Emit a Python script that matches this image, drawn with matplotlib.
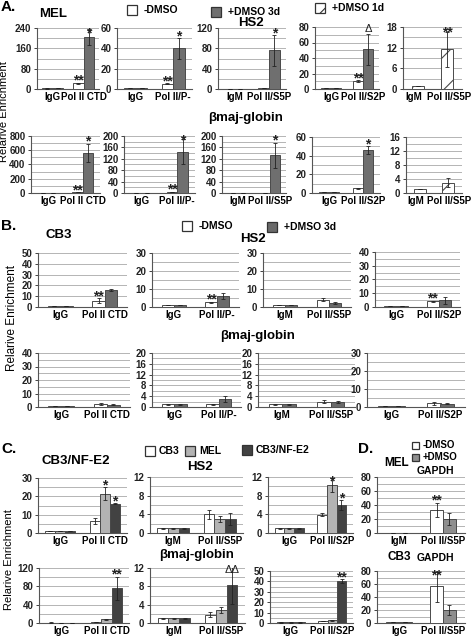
import numpy as np
import matplotlib
matplotlib.use("Agg")
import matplotlib.pyplot as plt
from matplotlib.patches import Rectangle

plt.rcParams['font.family'] = ['Liberation Sans', 'DejaVu Sans']
plt.rcParams['font.weight'] = 'bold'
plt.rcParams['hatch.linewidth'] = 0.8

# ---------------- DATA ----------------
# Panel A (MEL) - HS2
A1_cats = ["IgG", "Pol II CTD"]
A1_vals = [[2, 22], [3, 205]]
A1_errs = [[0.3, 3], [0.3, 30]]
A1_ticks = [0, 80, 160, 240]
A1_marks = [["", "**"], ["", "*"]]

A2_cats = ["IgG", "Pol II/P-"]
A2_vals = [[0.6, 5], [0.6, 40]]
A2_errs = [[0.1, 0.5], [0.1, 10]]
A2_ticks = [0, 20, 40, 60]
A2_marks = [["", "**"], ["", "*"]]

A3_cats = ["IgM", "Pol II/S5P"]
A3_vals = [[0.5, 2], [0.5, 76]]
A3_errs = [[0.1, 0.3], [0.1, 30]]
A3_ticks = [0, 40, 80, 120]
A3_marks = [["", ""], ["", "*"]]

A4_cats = ["IgG", "Pol II/S2P"]
A4_vals = [[1, 10], [1, 51]]
A4_errs = [[0.1, 1], [0.1, 20]]
A4_ticks = [0, 20, 40, 60, 80]
A4_marks = [["", "**"], ["", "Δ"]]

A5_cats = ["IgM", "Pol II/S5P"]
A5_vals = [[1, 11.5]]
A5_errs = [[0, 5]]
A5_ticks = [0, 6, 12, 18]
A5_marks = [["", "**"]]

# Panel A (MEL) - beta-maj-globin
A6_cats = ["IgG", "Pol II CTD"]
A6_vals = [[3, 10], [3, 560]]
A6_errs = [[0.5, 1], [0.5, 130]]
A6_ticks = [0, 200, 400, 600, 800]
A6_marks = [["", "**"], ["", "*"]]

A7_cats = ["IgG", "Pol II/P-"]
A7_vals = [[1, 3], [1, 145]]
A7_errs = [[0.1, 0.3], [0.1, 45]]
A7_ticks = [0, 40, 80, 120, 160, 200]
A7_marks = [["", "**"], ["", "*"]]

A8_cats = ["IgM", "Pol II/S5P"]
A8_vals = [[1, 1], [1, 132]]
A8_errs = [[0.1, 0.1], [0.1, 45]]
A8_ticks = [0, 40, 80, 120, 160, 200]
A8_marks = [["", ""], ["", "*"]]

A9_cats = ["IgG", "Pol II/S2P"]
A9_vals = [[1, 5], [1, 46]]
A9_errs = [[0.1, 0.3], [0.1, 4]]
A9_ticks = [0, 20, 40, 60]
A9_marks = [["", ""], ["", "*"]]

A10_cats = ["IgM", "Pol II/S5P"]
A10_vals = [[1.2, 3]]
A10_errs = [[0, 1.3]]
A10_ticks = [0, 4, 8, 12, 16]
A10_marks = [["", ""]]

# Panel B (CB3) - HS2
B1_cats = ["IgG", "Pol II CTD"]
B1_vals = [[1, 6], [1, 15.5]]
B1_errs = [[0.1, 2], [0.1, 0.8]]
B1_ticks = [0, 10, 20, 30, 40, 50]
B1_marks = [["", "**"], ["", ""]]

B2_cats = ["IgG", "Pol II/P-"]
B2_vals = [[1, 2.5], [1, 6]]
B2_errs = [[0.1, 0.3], [0.1, 1.5]]
B2_ticks = [0, 10, 20, 30]
B2_marks = [["", "**"], ["", ""]]

B3_cats = ["IgM", "Pol II/S5P"]
B3_vals = [[1, 4], [1, 2]]
B3_errs = [[0.1, 0.8], [0.1, 0.5]]
B3_ticks = [0, 10, 20, 30]
B3_marks = [["", ""], ["", ""]]

B4_cats = ["IgG", "Pol II/S2P"]
B4_vals = [[0.5, 4], [0.5, 5]]
B4_errs = [[0.1, 0.5], [0.1, 2.5]]
B4_ticks = [0, 10, 20, 30, 40]
B4_marks = [["", "**"], ["", ""]]

# Panel B (CB3) - beta-maj-globin
B5_cats = ["IgG", "Pol II CTD"]
B5_vals = [[0.5, 2.5], [0.5, 1.8]]
B5_errs = [[0.1, 0.8], [0.1, 0.5]]
B5_ticks = [0, 10, 20, 30, 40]
B5_marks = [["", ""], ["", ""]]

B6_cats = ["IgG", "Pol II/P-"]
B6_vals = [[1, 1], [1, 3]]
B6_errs = [[0.1, 0.1], [0.1, 1.2]]
B6_ticks = [0, 4, 8, 12, 16, 20]
B6_marks = [["", ""], ["", ""]]

B7_cats = ["IgM", "Pol II/S5P"]
B7_vals = [[1, 2], [1, 1.8]]
B7_errs = [[0.1, 0.5], [0.1, 0.5]]
B7_ticks = [0, 4, 8, 12, 16, 20]
B7_marks = [["", ""], ["", ""]]

B8_cats = ["IgG", "Pol II/S2P"]
B8_vals = [[0.7, 2], [0.7, 1.8]]
B8_errs = [[0.1, 0.7], [0.1, 0.3]]
B8_ticks = [0, 10, 20, 30]
B8_marks = [["", ""], ["", ""]]

# Panel C (CB3 / MEL / CB3/NF-E2)
C1_cats = ["IgG", "Pol II CTD"]
C1_vals = [[1, 6.5], [1, 21.5], [1, 16]]
C1_errs = [[0.1, 1.5], [0.1, 3.5], [0.1, 0.3]]
C1_ticks = [0, 10, 20, 30]
C1_marks = [["", ""], ["", "*"], ["", "*"]]

C2_cats = ["IgM", "Pol II/S5P"]
C2_vals = [[1, 4], [1, 3], [1, 3]]
C2_errs = [[0.05, 1], [0.05, 0.6], [0.05, 1.2]]
C2_ticks = [0, 4, 8, 12]
C2_marks = [["", ""], ["", ""], ["", ""]]

C3_cats = ["IgG", "Pol II/S2P"]
C3_vals = [[1, 3.9], [1, 10.2], [1, 6]]
C3_errs = [[0.05, 0.3], [0.05, 1.5], [0.05, 1]]
C3_ticks = [0, 4, 8, 12]
C3_marks = [["", ""], ["", "*"], ["", "*"]]

C4_cats = ["IgG", "Pol II CTD"]
C4_vals = [[0.5, 2], [0.5, 8], [0.5, 76]]
C4_errs = [[1.5, 0.3], [0.1, 1], [0.1, 25]]
C4_ticks = [0, 40, 80, 120]
C4_marks = [["", ""], ["", ""], ["", "**"]]

C5_cats = ["IgM", "Pol II/S5P"]
C5_vals = [[1, 1.8], [1, 2.8], [1, 8.2]]
C5_errs = [[0.05, 0.5], [0.05, 0.7], [0.05, 4]]
C5_ticks = [0, 4, 8, 12]
C5_marks = [["", ""], ["", ""], ["", "ΔΔ"]]

C6_cats = ["IgG", "Pol II/S2P"]
C6_vals = [[0.5, 2], [0.5, 2.8], [0.5, 40]]
C6_errs = [[0.05, 0.4], [0.05, 0.5], [0.05, 2]]
C6_ticks = [0, 10, 20, 30, 40, 50]
C6_marks = [["", ""], ["", ""], ["", "**"]]

# Panel D (GAPDH)
D1_cats = ["IgM", "Pol II/S5P"]
D1_vals = [[0.5, 33], [0.5, 20]]
D1_errs = [[0.05, 10], [0.05, 8]]
D1_ticks = [0, 20, 40, 60, 80]
D1_marks = [["", "**"], ["", ""]]

D2_cats = ["IgG", "Pol II/S5P"]
D2_vals = [[1, 57], [1, 20]]
D2_errs = [[0.05, 25], [0.05, 8]]
D2_ticks = [0, 20, 40, 60, 80]
D2_marks = [["", "**"], ["", ""]]

# ---------------- STYLE / LAYOUT ----------------
W, H = 477, 637
fig = plt.figure(figsize=(W / 100, H / 100), dpi=100)

WHITE = "white"
A_DARK = "#6f6f6f"
B_DARK = "#6a6a6a"
C_LIGHT = "#b3b3b3"
C_DARK = "#424242"
D_GRAY = "#8e8e8e"
EDGE = "#4a4a4a"
GRID = "#a8a8a8"
TICKFS = 7
LABFS = 7


def add_ax(x0, x1, yt, yb):
    return fig.add_axes([x0 / W, 1 - yb / H, (x1 - x0) / W, (yb - yt) / H])


def draw(ax, cats, vals, errs, ticks, marks, colors, hatches=None,
         group=0.6, substeps=2, label_pos=None):
    n = len(vals)
    w = group / n
    x = np.arange(len(cats))
    top = ticks[-1]
    for i, (v, e) in enumerate(zip(vals, errs)):
        if n == 1:
            pos = x.astype(float)
        else:
            pos = x - group / 2 + w * (i + 0.5)
        h = hatches[i] if hatches else None
        ax.bar(pos, v, w if n > 1 else 0.42, color=colors[i], edgecolor=EDGE,
               linewidth=0.7, hatch=h, zorder=3)
        ax.errorbar(pos, v, yerr=e, fmt='none', ecolor='#222222',
                    elinewidth=0.6, capsize=1.5, capthick=0.6, zorder=4)
        for p, vv, ee, m in zip(pos, v, e, marks[i]):
            if m:
                fs = 8 if "Δ" in m else 10
                yy = min(vv + ee, top * 0.88)
                ax.annotate(m, (p, yy), xytext=(0, -3.5 if "*" in m else 0),
                            textcoords='offset points', ha='center', va='bottom',
                            fontsize=fs, fontweight='normal' if "Δ" in m else 'bold',
                            color='#222222', zorder=5, annotation_clip=False)
    ax.set_xlim(-0.5, len(cats) - 0.5)
    ax.set_ylim(ticks[0], ticks[-1])
    ax.set_yticks(ticks)
    ax.set_yticklabels([str(t) for t in ticks], fontsize=TICKFS, fontweight='bold')
    step = (ticks[1] - ticks[0]) / substeps
    grid = np.arange(ticks[0] + step, ticks[-1] + step / 2, step)
    for g in grid:
        ax.axhline(g, color=GRID, lw=0.6, zorder=1)
    ax.set_xticks(label_pos if label_pos is not None else x)
    ax.set_xticklabels(cats, fontsize=LABFS, fontweight='bold')
    ax.tick_params(axis='x', length=0, pad=2.5)
    ax.tick_params(axis='y', length=2.5, width=0.6, pad=1.5, colors='#222222')
    for s in ['top', 'right']:
        ax.spines[s].set_visible(False)
    for s in ['left', 'bottom']:
        ax.spines[s].set_color('#555555')
        ax.spines[s].set_linewidth(0.8)


def legend_box(x, y, color, label, size=10, hatch=None, fs=7.5, gap=7):
    fig.add_artist(Rectangle(((x - size / 2) / W, 1 - (y + size / 2) / H),
                             size / W, size / H, transform=fig.transFigure,
                             facecolor=color, edgecolor='#333333', lw=0.9, hatch=hatch))
    fig.text((x + size / 2 + gap) / W, 1 - y / H, label, fontsize=fs,
             fontweight='bold', va='center', ha='left')


def ftext(x, y, s, fs, ha='left'):
    fig.text(x / W, 1 - y / H, s, fontsize=fs, fontweight='bold', ha=ha, va='center')


def ylab(x, y, fs=8.5):
    fig.text(x / W, 1 - y / H, "Relarive Enrichment", rotation=90, fontsize=fs,
             fontweight='normal', ha='center', va='center')


two_A = [WHITE, A_DARK]
two_B = [WHITE, B_DARK]
three_C = [WHITE, C_LIGHT, C_DARK]
two_D = [WHITE, D_GRAY]

# ---- Panel A ----
ftext(1, 7, "A.", 11)
ftext(39, 14, "MEL", 9.5)
legend_box(132, 10, WHITE, "-DMSO")
legend_box(216, 12, A_DARK, "+DMSO 3d")
legend_box(320, 8, WHITE, "+DMSO 1d", hatch='/')
ftext(251, 23, "HS2", 9.5, ha='center')
ftext(246, 118, "\u03b2maj-globin", 9.5, ha='center')
ylab(4, 112, fs=8)

draw(add_ax(37, 99, 28, 89), A1_cats, A1_vals, A1_errs, A1_ticks, A1_marks, two_A, group=0.66)
draw(add_ax(117, 192, 28, 89), A2_cats, A2_vals, A2_errs, A2_ticks, A2_marks, two_A, group=0.62)
draw(add_ax(218, 286, 28, 89), A3_cats, A3_vals, A3_errs, A3_ticks, A3_marks, two_A, group=0.62)
draw(add_ax(315, 379, 27, 89), A4_cats, A4_vals, A4_errs, A4_ticks, A4_marks, two_A, group=0.62)
draw(add_ax(403, 462, 27, 89), A5_cats, A5_vals, A5_errs, A5_ticks, A5_marks, [WHITE],
     hatches=['/'], label_pos=[-0.12, 1.05])

draw(add_ax(31, 100, 136, 193), A6_cats, A6_vals, A6_errs, A6_ticks, A6_marks, two_A, group=0.6)
draw(add_ax(124, 195, 136, 193), A7_cats, A7_vals, A7_errs, A7_ticks, A7_marks, two_A, group=0.6)
draw(add_ax(222, 286, 136, 193), A8_cats, A8_vals, A8_errs, A8_ticks, A8_marks, two_A, group=0.62)
draw(add_ax(312, 380, 137, 193), A9_cats, A9_vals, A9_errs, A9_ticks, A9_marks, two_A, group=0.6)
draw(add_ax(406, 462, 137, 193), A10_cats, A10_vals, A10_errs, A10_ticks, A10_marks, [WHITE],
     hatches=['/'], label_pos=[-0.15, 1.05])

# ---- Panel B ----
ftext(1, 226, "B.", 11)
ftext(45, 235, "CB3", 9.5)
legend_box(187, 226, WHITE, "-DMSO")
legend_box(272, 227, B_DARK, "+DMSO 3d")
ftext(253, 239, "HS2", 9.5, ha='center')
ftext(258, 336, "\u03b2maj-globin", 9.5, ha='center')
ylab(12, 318)

draw(add_ax(38, 127, 253, 307), B1_cats, B1_vals, B1_errs, B1_ticks, B1_marks, two_B, group=0.56, substeps=1)
draw(add_ax(152, 239, 253, 307), B2_cats, B2_vals, B2_errs, B2_ticks, B2_marks, two_B, group=0.56)
draw(add_ax(263, 351, 253, 307), B3_cats, B3_vals, B3_errs, B3_ticks, B3_marks, two_B, group=0.56)
draw(add_ax(375, 460, 252, 307), B4_cats, B4_vals, B4_errs, B4_ticks, B4_marks, two_B, group=0.56)

draw(add_ax(38, 130, 353, 407), B5_cats, B5_vals, B5_errs, B5_ticks, B5_marks, two_B, group=0.56)
draw(add_ax(152, 241, 353, 407), B6_cats, B6_vals, B6_errs, B6_ticks, B6_marks, two_B, group=0.56)
draw(add_ax(258, 355, 353, 407), B7_cats, B7_vals, B7_errs, B7_ticks, B7_marks, two_B, group=0.56)
draw(add_ax(367, 465, 353, 407), B8_cats, B8_vals, B8_errs, B8_ticks, B8_marks, two_B, group=0.56)

# ---- Panel C ----
ftext(1, 449, "C.", 11)
ftext(42, 461, "CB3/NF-E2", 9.5)
legend_box(150, 451, WHITE, "CB3", gap=4)
legend_box(190, 451, C_LIGHT, "MEL", gap=4)
legend_box(247, 450, C_DARK, "CB3/NF-E2", gap=4)
ftext(200, 467, "HS2", 9.5, ha='center')
ftext(197, 555, "\u03b2maj-globin", 9.5, ha='center')
ylab(9, 560, fs=8)

draw(add_ax(38, 127, 478, 533), C1_cats, C1_vals, C1_errs, C1_ticks, C1_marks, three_C, group=0.68)
draw(add_ax(150, 243, 477, 533), C2_cats, C2_vals, C2_errs, C2_ticks, C2_marks, three_C, group=0.68)
draw(add_ax(268, 353, 477, 533), C3_cats, C3_vals, C3_errs, C3_ticks, C3_marks, three_C, group=0.68)

draw(add_ax(39, 129, 568, 623), C4_cats, C4_vals, C4_errs, C4_ticks, C4_marks, three_C, group=0.68)
draw(add_ax(150, 245, 568, 623), C5_cats, C5_vals, C5_errs, C5_ticks, C5_marks, three_C, group=0.68)
draw(add_ax(270, 353, 571, 623), C6_cats, C6_vals, C6_errs, C6_ticks, C6_marks, three_C, group=0.68)

# ---- Panel D ----
ftext(358, 449, "D.", 11)
legend_box(416, 445, WHITE, "-DMSO", size=7, fs=7, gap=3)
legend_box(416, 457, D_GRAY, "+DMSO", size=7, fs=7, gap=3)
ftext(384, 463, "MEL", 8.5)
ftext(417, 471, "GAPDH", 7.5)
ftext(388, 557, "CB3", 8.5)
ftext(417, 558, "GAPDH", 7.5)

draw(add_ax(377, 465, 477, 533), D1_cats, D1_vals, D1_errs, D1_ticks, D1_marks, two_D, group=0.58)
draw(add_ax(377, 465, 571, 623), D2_cats, D2_vals, D2_errs, D2_ticks, D2_marks, two_D, group=0.58)

fig.savefig("out.png", dpi=100, facecolor='white')
